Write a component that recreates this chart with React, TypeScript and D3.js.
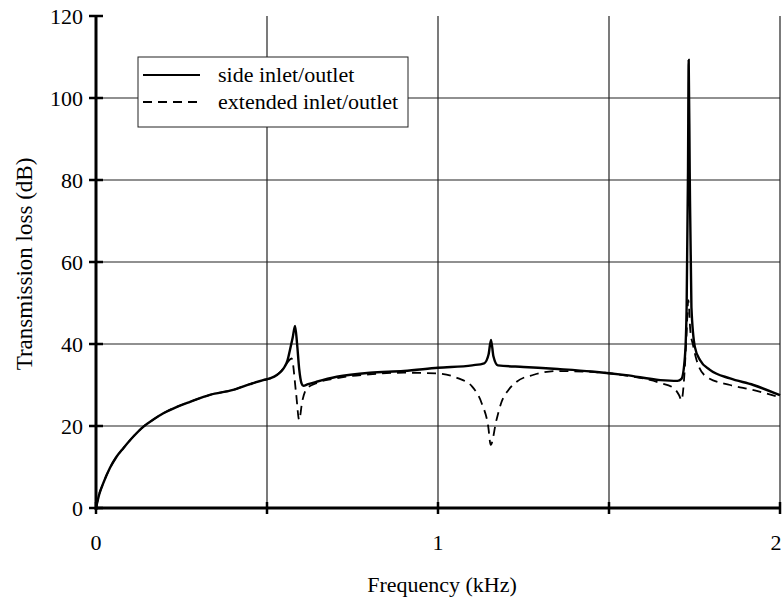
import React from "react";
import * as d3 from "d3";

// side inlet/outlet (solid)
const freqSide = [0, 0.01, 0.021, 0.041, 0.06, 0.08, 0.11, 0.138, 0.17, 0.197, 0.24, 0.275, 0.333, 0.401, 0.45, 0.489, 0.509, 0.53, 0.548, 0.56, 0.567, 0.575, 0.582, 0.588, 0.594, 0.601, 0.606, 0.62, 0.645, 0.704, 0.801, 0.9, 1.0, 1.1, 1.135, 1.148, 1.155, 1.162, 1.175, 1.25, 1.35, 1.45, 1.55, 1.65, 1.7, 1.712, 1.722, 1.727, 1.731, 1.733, 1.736, 1.741, 1.751, 1.766, 1.795, 1.854, 1.922, 2.0];
const tlSide = [0, 3.5, 6, 9.8, 12.5, 14.6, 17.5, 19.8, 21.7, 23.1, 24.8, 25.9, 27.6, 28.8, 30.2, 31.2, 31.6, 32.5, 34, 36, 38.5, 41.5, 44.4, 40, 34, 30.4, 29.8, 30.2, 30.8, 32, 33, 33.4, 34.2, 34.8, 35.3, 37.5, 41, 37, 34.8, 34.4, 33.9, 33.3, 32.4, 31.2, 31.0, 31.5, 36.9, 49, 82, 109.3, 82, 49, 39.3, 36.1, 33.7, 31.6, 30, 27.5];

// extended inlet/outlet (dashed)
const freqExt = [0, 0.01, 0.021, 0.041, 0.06, 0.08, 0.11, 0.138, 0.17, 0.197, 0.24, 0.275, 0.333, 0.401, 0.45, 0.489, 0.509, 0.53, 0.548, 0.56, 0.572, 0.585, 0.594, 0.603, 0.615, 0.64, 0.7, 0.8, 0.9, 1.0, 1.06, 1.1, 1.128, 1.147, 1.154, 1.171, 1.186, 1.206, 1.23, 1.28, 1.35, 1.45, 1.55, 1.65, 1.69, 1.705, 1.712, 1.72, 1.726, 1.732, 1.738, 1.745, 1.756, 1.785, 1.854, 1.92, 2.0];
const tlExt = [0, 3.5, 6, 9.8, 12.5, 14.6, 17.5, 19.8, 21.7, 23.1, 24.8, 25.9, 27.6, 28.8, 30.2, 31.2, 31.6, 32.5, 34, 35.5, 36.5, 28, 21.5, 26, 29, 30.3, 31.6, 32.6, 33, 32.8, 31.6, 29.6, 25.5, 19.8, 15.4, 21.5, 25.9, 28.8, 30.8, 32.5, 33.4, 33.2, 32.3, 30.5, 29.2, 27.5, 26.3, 32, 41, 50.7, 43, 40, 36.1, 32, 30, 28.8, 27.0];

const yTicks = [0, 20, 40, 60, 80, 100, 120];
const xTicks = [0, 0.5, 1, 1.5, 2];
const xTickLabels = ["0", "", "1", "", "2"];
const legendLabels = ["side inlet/outlet", "extended inlet/outlet"];

export default function App() {
  const width = 783;
  const height = 599;
  const x = d3.scaleLinear().domain([0, 2]).range([96, 780]);
  const y = d3.scaleLinear().domain([0, 120]).range([508, 16]);
  const font = "'Liberation Serif', 'Times New Roman', serif";

  const line = d3
    .line<[number, number]>()
    .x((d) => x(d[0]))
    .y((d) => y(d[1]))
    .curve(d3.curveMonotoneX);

  const sidePath = line(freqSide.map((f, i) => [f, tlSide[i]]) as [number, number][]) || "";
  const extPath = line(freqExt.map((f, i) => [f, tlExt[i]]) as [number, number][]) || "";

  return (
    <svg width={width} height={height} style={{ position: "absolute", left: 0, top: 0, background: "#fff" }}>
      {/* grid */}
      {yTicks.filter((t) => t > 0 && t < 120).map((t) => (
        <line key={"gy" + t} x1={x(0)} x2={x(2)} y1={y(t)} y2={y(t)} stroke="#222" strokeWidth={1.2} />
      ))}
      {xTicks.filter((t) => t > 0).map((t) => (
        <line key={"gx" + t} x1={x(t)} x2={x(t)} y1={y(120)} y2={y(0)} stroke="#222" strokeWidth={1.2} />
      ))}

      {/* curves */}
      <path d={extPath} fill="none" stroke="#000" strokeWidth={1.8} strokeDasharray="9,6" />
      <path d={sidePath} fill="none" stroke="#000" strokeWidth={2.4} />

      {/* axes */}
      <line x1={x(0)} x2={x(0)} y1={y(120)} y2={y(0) + 2} stroke="#000" strokeWidth={3} />
      <line x1={x(0)} x2={x(2)} y1={y(0)} y2={y(0)} stroke="#000" strokeWidth={3} />
      {yTicks.map((t) => (
        <g key={"yt" + t}>
          <line x1={x(0) - 7} x2={x(0) + 7} y1={y(t)} y2={y(t)} stroke="#000" strokeWidth={2.5} />
          <text x={x(0) - 13} y={y(t)} dy="0.35em" textAnchor="end" fontFamily={font} fontSize={22}>
            {t}
          </text>
        </g>
      ))}
      {xTicks.map((t, i) => (
        <g key={"xt" + t}>
          <line x1={x(t)} x2={x(t)} y1={y(0) - 6} y2={y(0) + 6} stroke="#000" strokeWidth={2.5} />
          <text x={Math.min(x(t), 776)} y={550} textAnchor="middle" fontFamily={font} fontSize={22}>
            {xTickLabels[i]}
          </text>
        </g>
      ))}

      {/* axis titles */}
      <text x={442} y={592} textAnchor="middle" fontFamily={font} fontSize={22}>
        Frequency (kHz)
      </text>
      <text transform="translate(32,264) rotate(-90)" textAnchor="middle" fontFamily={font} fontSize={23}>
        Transmission loss (dB)
      </text>

      {/* legend */}
      <rect x={138} y={57} width={270} height={70} fill="#fff" stroke="#222" strokeWidth={1} />
      <line x1={143} x2={200} y1={75} y2={75} stroke="#000" strokeWidth={2.2} />
      <line x1={143} x2={198} y1={102} y2={102} stroke="#000" strokeWidth={1.8} strokeDasharray="9,6" />
      <text x={218} y={82} fontFamily={font} fontSize={22}>{legendLabels[0]}</text>
      <text x={218} y={109} fontFamily={font} fontSize={22}>{legendLabels[1]}</text>
    </svg>
  );
}
